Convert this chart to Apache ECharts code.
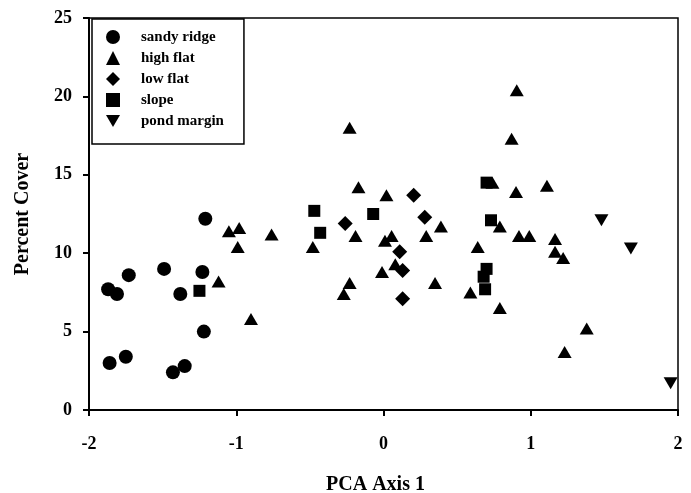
<!DOCTYPE html>
<html>
<head>
<meta charset="utf-8">
<script src="https://cdn.jsdelivr.net/npm/echarts@6/dist/echarts.min.js"></script>
<style>
  html, body { margin: 0; padding: 0; background: #fff; }
  #chart { width: 691px; height: 493px; }
</style>
</head>
<body>
<div id="chart"></div>
<script>
// data: [PCA axis 1, percent cover]
const sandyRidge = [
  [-1.87, 7.7], [-1.81, 7.4], [-1.73, 8.6], [-1.49, 9.0], [-1.23, 8.8],
  [-1.38, 7.4], [-1.22, 5.0], [-1.86, 3.0], [-1.75, 3.4], [-1.43, 2.4],
  [-1.35, 2.8], [-1.21, 12.2]
];
const highFlat = [
  [-1.05, 11.4], [-0.98, 11.6], [-0.99, 10.4], [-0.76, 11.2], [-1.12, 8.2],
  [-0.90, 5.8], [-0.23, 18.0], [0.905, 20.4], [0.87, 17.3], [-0.17, 14.2],
  [0.02, 13.7], [0.39, 11.7], [-0.19, 11.1], [-0.48, 10.4], [0.055, 11.1],
  [0.01, 10.8], [0.29, 11.1], [0.64, 10.4], [-0.23, 8.1], [-0.27, 7.4],
  [-0.01, 8.8], [0.08, 9.3], [0.35, 8.1], [0.59, 7.5], [0.79, 6.5],
  [1.38, 5.2], [1.23, 3.7], [1.165, 10.1], [1.22, 9.7], [0.74, 14.5],
  [0.90, 13.9], [1.11, 14.3], [0.79, 11.7], [0.92, 11.1], [0.99, 11.1],
  [1.165, 10.9]
];
const lowFlat = [
  [-0.26, 11.9], [0.205, 13.7], [0.28, 12.3], [0.11, 10.1], [0.13, 8.9], [0.13, 7.1]
];
const slope = [
  [-1.25, 7.6], [-0.47, 12.7], [-0.43, 11.3], [-0.07, 12.5], [0.70, 14.5],
  [0.73, 12.1], [0.70, 9.0], [0.68, 8.5], [0.69, 7.7]
];
const pondMargin = [
  [1.48, 12.1], [1.68, 10.3], [1.95, 1.7]
];
const xTicks = [-2, -1, 0, 1, 2];
const yTicks = [0, 5, 10, 15, 20, 25];

const serif = "'Liberation Serif', 'Times New Roman', serif";
const downTriangle = "path://M0,0 L14,0 L7,12 Z";

const chart = echarts.init(document.getElementById("chart"));

function mkSeries(name, data, symbol, size) {
  return {
    name: name,
    type: "scatter",
    data: data,
    symbol: symbol,
    symbolSize: size,
    itemStyle: { color: "#000", opacity: 1 },
    emphasis: { disabled: true }
  };
}

const option = {
  animation: false,
  backgroundColor: "#fff",
  grid: {
    left: 89, right: 13, top: 18, bottom: 83,
    outerBoundsMode: "none",
    show: true, borderColor: "#000", borderWidth: 1.5
  },
  legend: {
    orient: "vertical",
    left: 92, top: 19,
    padding: [10, 20, 15, 14],
    itemWidth: 14, itemHeight: 14, itemGap: 5,
    backgroundColor: "#fff",
    borderColor: "#000", borderWidth: 1.5,
    textStyle: {
      fontFamily: serif, fontWeight: "bold", fontSize: 15, lineHeight: 16,
      color: "#000", padding: [0, 0, 0, 16]
    },
    data: ["sandy ridge", "high flat", "low flat", "slope", "pond margin"]
  },
  xAxis: {
    type: "value",
    min: xTicks[0], max: xTicks[xTicks.length - 1], interval: 1,
    name: "PCA Axis 1", nameLocation: "middle", nameGap: 65,
    nameTextStyle: { fontFamily: serif, fontWeight: "bold", fontSize: 20, color: "#000", padding: [0, 16, 0, 0] },
    axisLine: { onZero: false, lineStyle: { color: "#000", width: 2 } },
    axisTick: { show: true, inside: false, length: 6, lineStyle: { color: "#000", width: 2 } },
    axisLabel: { margin: 25, fontFamily: serif, fontWeight: "bold", fontSize: 18, color: "#000" },
    splitLine: { show: false }
  },
  yAxis: {
    type: "value",
    min: yTicks[0], max: yTicks[yTicks.length - 1], interval: 5,
    name: "Percent Cover", nameLocation: "middle", nameGap: 56,
    nameTextStyle: { fontFamily: serif, fontWeight: "bold", fontSize: 20, color: "#000" },
    axisLine: { onZero: false, lineStyle: { color: "#000", width: 2 } },
    axisTick: { show: true, inside: false, length: 6, lineStyle: { color: "#000", width: 2 } },
    axisLabel: { margin: 17, fontFamily: serif, fontWeight: "bold", fontSize: 18, color: "#000" },
    splitLine: { show: false }
  },
  series: [
    mkSeries("sandy ridge", sandyRidge, "circle", 14),
    mkSeries("high flat", highFlat, "triangle", [14, 12]),
    mkSeries("low flat", lowFlat, "diamond", [15, 15]),
    mkSeries("slope", slope, "rect", 12),
    mkSeries("pond margin", pondMargin, downTriangle, [14, 12])
  ]
};

chart.setOption(option);
</script>
</body>
</html>
